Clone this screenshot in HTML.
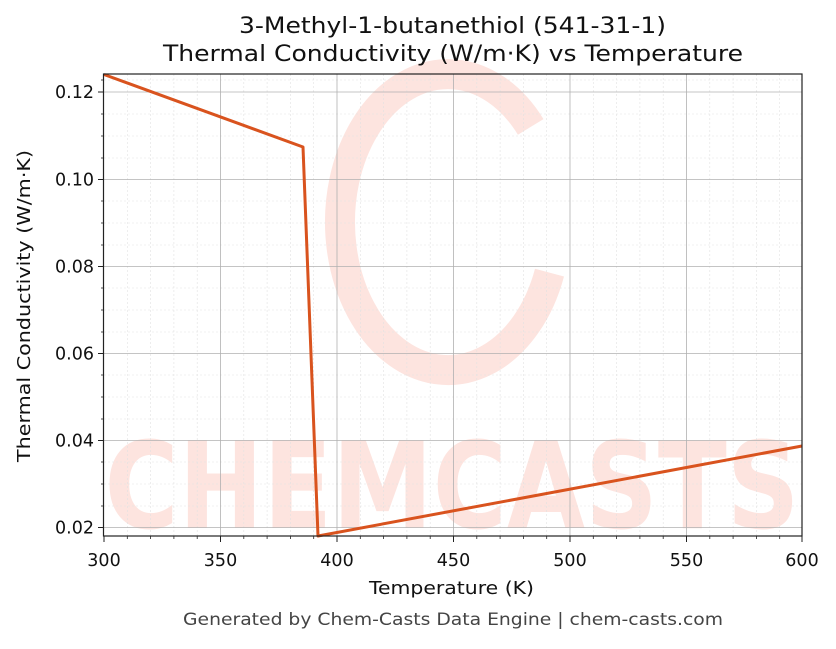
<!DOCTYPE html>
<html><head><meta charset="utf-8"><style>body{margin:0;background:#fff}</style></head><body>
<svg width="836" height="644" xmlns="http://www.w3.org/2000/svg" font-family="DejaVu Sans, Liberation Sans, sans-serif">
<rect width="836" height="644" fill="#fff"/>
<g>
<path d="M 530.7 126.9 A 108 148 0 1 0 549.5 272.6" fill="none" stroke="#fde4df" stroke-width="30"/>
<text x="452" y="528" font-size="120" font-weight="bold" text-anchor="middle" textLength="695" lengthAdjust="spacingAndGlyphs" fill="#fde4df">CHEMCASTS</text>
</g>
<g stroke="#e2e2e2" stroke-width="0.6" stroke-dasharray="2,2">
<line x1="127.3" y1="74" x2="127.3" y2="536"/><line x1="150.6" y1="74" x2="150.6" y2="536"/><line x1="173.9" y1="74" x2="173.9" y2="536"/><line x1="197.2" y1="74" x2="197.2" y2="536"/>
<line x1="243.8" y1="74" x2="243.8" y2="536"/><line x1="267.1" y1="74" x2="267.1" y2="536"/><line x1="290.4" y1="74" x2="290.4" y2="536"/><line x1="313.7" y1="74" x2="313.7" y2="536"/>
<line x1="360.3" y1="74" x2="360.3" y2="536"/><line x1="383.6" y1="74" x2="383.6" y2="536"/><line x1="406.9" y1="74" x2="406.9" y2="536"/><line x1="430.2" y1="74" x2="430.2" y2="536"/>
<line x1="476.8" y1="74" x2="476.8" y2="536"/><line x1="500.1" y1="74" x2="500.1" y2="536"/><line x1="523.4" y1="74" x2="523.4" y2="536"/><line x1="546.7" y1="74" x2="546.7" y2="536"/>
<line x1="593.3" y1="74" x2="593.3" y2="536"/><line x1="616.6" y1="74" x2="616.6" y2="536"/><line x1="639.9" y1="74" x2="639.9" y2="536"/><line x1="663.2" y1="74" x2="663.2" y2="536"/>
<line x1="709.8" y1="74" x2="709.8" y2="536"/><line x1="733.1" y1="74" x2="733.1" y2="536"/><line x1="756.4" y1="74" x2="756.4" y2="536"/><line x1="779.7" y1="74" x2="779.7" y2="536"/>
<line x1="104" y1="114" x2="802" y2="114"/><line x1="104" y1="136" x2="802" y2="136"/><line x1="104" y1="158" x2="802" y2="158"/>
<line x1="104" y1="201" x2="802" y2="201"/><line x1="104" y1="223" x2="802" y2="223"/><line x1="104" y1="245" x2="802" y2="245"/>
<line x1="104" y1="288" x2="802" y2="288"/><line x1="104" y1="310" x2="802" y2="310"/><line x1="104" y1="332" x2="802" y2="332"/>
<line x1="104" y1="375" x2="802" y2="375"/><line x1="104" y1="397" x2="802" y2="397"/><line x1="104" y1="419" x2="802" y2="419"/>
<line x1="104" y1="462" x2="802" y2="462"/><line x1="104" y1="484" x2="802" y2="484"/><line x1="104" y1="506" x2="802" y2="506"/>
<line x1="104" y1="80" x2="802" y2="80"/>
</g>
<g stroke="#b0b0b0" stroke-width="0.8">
<line x1="220.5" y1="74" x2="220.5" y2="536"/><line x1="337" y1="74" x2="337" y2="536"/><line x1="453.5" y1="74" x2="453.5" y2="536"/><line x1="570" y1="74" x2="570" y2="536"/><line x1="686.5" y1="74" x2="686.5" y2="536"/>
<line x1="104" y1="92" x2="802" y2="92"/><line x1="104" y1="179.5" x2="802" y2="179.5"/><line x1="104" y1="266.5" x2="802" y2="266.5"/><line x1="104" y1="353.5" x2="802" y2="353.5"/><line x1="104" y1="440.5" x2="802" y2="440.5"/><line x1="104" y1="527.5" x2="802" y2="527.5"/>
</g>
<polyline points="104,74.5 303,147 318,536 802,446" fill="none" stroke="#d9531e" stroke-width="3" stroke-linejoin="round"/>
<rect x="103.5" y="74" width="698.5" height="462" fill="none" stroke="#222" stroke-width="1.2"/>
<g stroke="#222" stroke-width="1">
<line x1="104" y1="536" x2="104" y2="542"/><line x1="220.5" y1="536" x2="220.5" y2="542"/><line x1="337" y1="536" x2="337" y2="542"/><line x1="453.5" y1="536" x2="453.5" y2="542"/><line x1="570" y1="536" x2="570" y2="542"/><line x1="686.5" y1="536" x2="686.5" y2="542"/><line x1="802" y1="536" x2="802" y2="542"/>
<line x1="98" y1="92" x2="104" y2="92"/><line x1="98" y1="179.5" x2="104" y2="179.5"/><line x1="98" y1="266.5" x2="104" y2="266.5"/><line x1="98" y1="353.5" x2="104" y2="353.5"/><line x1="98" y1="440.5" x2="104" y2="440.5"/><line x1="98" y1="527.5" x2="104" y2="527.5"/>
</g>
<g stroke="#222" stroke-width="0.8">
<line x1="127.3" y1="536" x2="127.3" y2="539"/><line x1="150.6" y1="536" x2="150.6" y2="539"/><line x1="173.9" y1="536" x2="173.9" y2="539"/><line x1="197.2" y1="536" x2="197.2" y2="539"/>
<line x1="243.8" y1="536" x2="243.8" y2="539"/><line x1="267.1" y1="536" x2="267.1" y2="539"/><line x1="290.4" y1="536" x2="290.4" y2="539"/><line x1="313.7" y1="536" x2="313.7" y2="539"/>
<line x1="360.3" y1="536" x2="360.3" y2="539"/><line x1="383.6" y1="536" x2="383.6" y2="539"/><line x1="406.9" y1="536" x2="406.9" y2="539"/><line x1="430.2" y1="536" x2="430.2" y2="539"/>
<line x1="476.8" y1="536" x2="476.8" y2="539"/><line x1="500.1" y1="536" x2="500.1" y2="539"/><line x1="523.4" y1="536" x2="523.4" y2="539"/><line x1="546.7" y1="536" x2="546.7" y2="539"/>
<line x1="593.3" y1="536" x2="593.3" y2="539"/><line x1="616.6" y1="536" x2="616.6" y2="539"/><line x1="639.9" y1="536" x2="639.9" y2="539"/><line x1="663.2" y1="536" x2="663.2" y2="539"/>
<line x1="709.8" y1="536" x2="709.8" y2="539"/><line x1="733.1" y1="536" x2="733.1" y2="539"/><line x1="756.4" y1="536" x2="756.4" y2="539"/><line x1="779.7" y1="536" x2="779.7" y2="539"/>
<line x1="101" y1="114" x2="104" y2="114"/><line x1="101" y1="136" x2="104" y2="136"/><line x1="101" y1="158" x2="104" y2="158"/>
<line x1="101" y1="201" x2="104" y2="201"/><line x1="101" y1="223" x2="104" y2="223"/><line x1="101" y1="245" x2="104" y2="245"/>
<line x1="101" y1="288" x2="104" y2="288"/><line x1="101" y1="310" x2="104" y2="310"/><line x1="101" y1="332" x2="104" y2="332"/>
<line x1="101" y1="375" x2="104" y2="375"/><line x1="101" y1="397" x2="104" y2="397"/><line x1="101" y1="419" x2="104" y2="419"/>
<line x1="101" y1="462" x2="104" y2="462"/><line x1="101" y1="484" x2="104" y2="484"/><line x1="101" y1="506" x2="104" y2="506"/>
<line x1="101" y1="80" x2="104" y2="80"/>
</g>
<g font-size="17.5" fill="#111" text-anchor="middle">
<text x="104" y="566">300</text><text x="220.5" y="566">350</text><text x="337" y="566">400</text><text x="453.5" y="566">450</text><text x="570" y="566">500</text><text x="686.5" y="566">550</text><text x="802" y="566">600</text>
</g>
<g font-size="17.5" fill="#111" text-anchor="end">
<text x="94" y="98">0.12</text><text x="94" y="185.5">0.10</text><text x="94" y="272.5">0.08</text><text x="94" y="359.5">0.06</text><text x="94" y="446.5">0.04</text><text x="94" y="533.5">0.02</text>
</g>
<text x="451.5" y="594" font-size="18" text-anchor="middle" fill="#111" textLength="165" lengthAdjust="spacingAndGlyphs">Temperature (K)</text>
<text transform="translate(30,306) rotate(-90)" font-size="18" text-anchor="middle" fill="#111" textLength="312" lengthAdjust="spacingAndGlyphs">Thermal Conductivity (W/m·K)</text>
<text x="452.5" y="33" font-size="22.5" text-anchor="middle" fill="#111" textLength="427" lengthAdjust="spacingAndGlyphs">3-Methyl-1-butanethiol (541-31-1)</text>
<text x="453" y="61" font-size="22.5" text-anchor="middle" fill="#111" textLength="580" lengthAdjust="spacingAndGlyphs">Thermal Conductivity (W/m·K) vs Temperature</text>
<text x="453" y="625" font-size="17" text-anchor="middle" fill="#444" textLength="540" lengthAdjust="spacingAndGlyphs">Generated by Chem-Casts Data Engine | chem-casts.com</text>
</svg>
</body></html>
